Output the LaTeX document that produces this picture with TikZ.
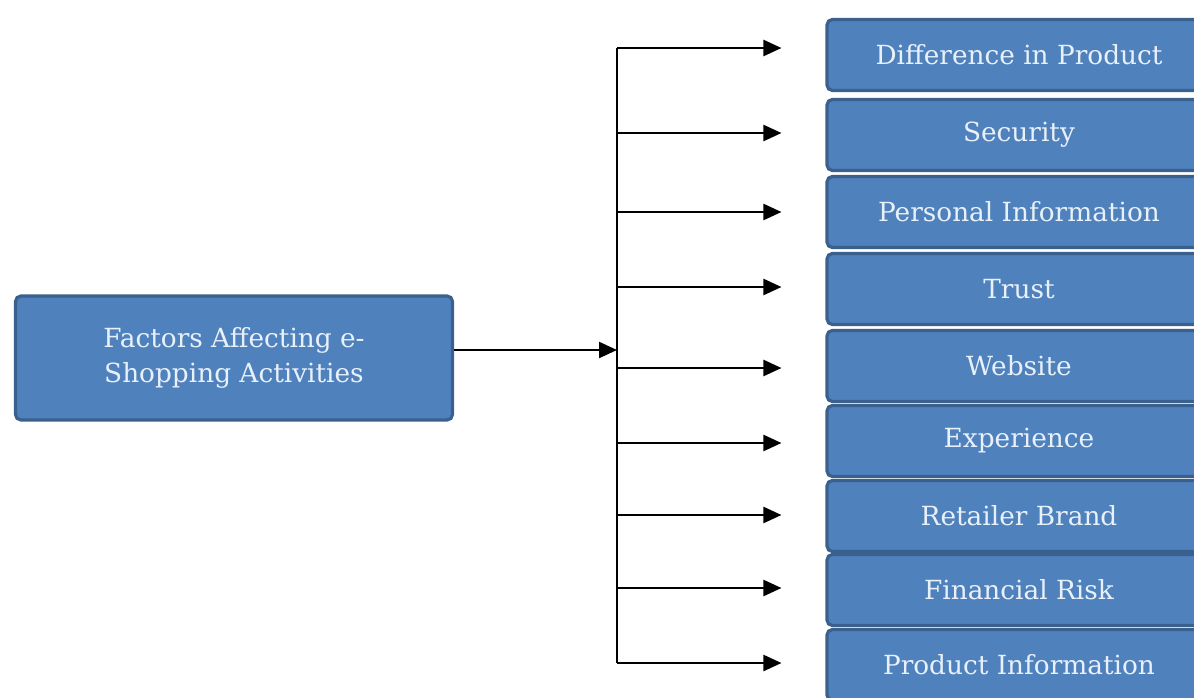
\documentclass[tikz,border=0pt]{standalone}
\usepackage{fontspec}
\setmainfont{DejaVu Serif}
\usetikzlibrary{arrows.meta}
\definecolor{boxblue}{RGB}{79,129,189}
\definecolor{boxedge}{RGB}{58,96,142}
\definecolor{boxtext}{RGB}{232,240,250}

\begin{document}
\begin{tikzpicture}[x=0.02cm, y=-0.02cm, every node/.style={font=\fontsize{15}{20}\selectfont},
	factor/.style={draw=boxedge, line width=1.8pt, fill=boxblue, text=boxtext, rounded corners=3pt, minimum width=7.68cm, minimum height=1.42cm, anchor=center},
	link/.style={line width=1.3pt, -{Triangle[length=0.36cm,width=0.32cm]}}]
	\useasboundingbox (0,0) rectangle (1194,697);
	\node[factor, minimum width=8.74cm, minimum height=2.48cm, align=center] (F) at (234,358) {Factors Affecting e-\\Shopping Activities};
	\coordinate (bus) at (617,350);
	\foreach \y/\ay/\name/\txt in {55/48/dp/Difference in Product, 135/133/sec/Security, 212/212/pers/Personal Information, 289/287/tru/Trust, 366/368/web/Website, 441/443/exp/Experience, 516/515/ret/Retailer Brand, 590/588/fin/Financial Risk, 665/663/pi/Product Information} {
		\node[factor] (\name) at (1019,\y) {\txt};
		\coordinate (t\name) at (617,\ay);
		\draw[link, shorten >=0.88cm] (t\name) -- (t\name -| \name.west);
	}
	\draw[line width=1.3pt] (tdp) -- (tpi);
	\draw[link] (F.east |- bus) -- (bus);
\end{tikzpicture}
\end{document}
